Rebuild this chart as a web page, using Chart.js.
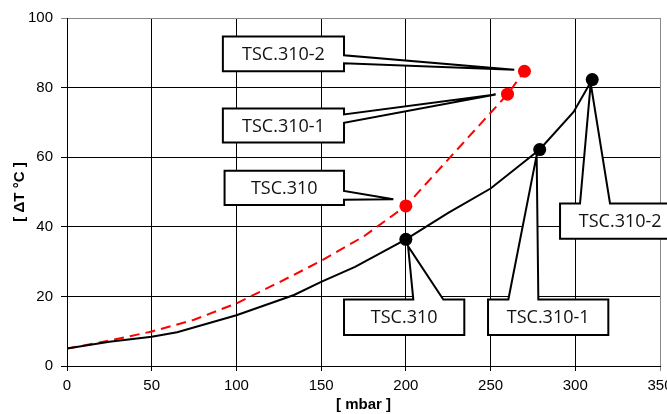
<!DOCTYPE html>
<html>
<head>
<meta charset="utf-8">
<script src="https://cdn.jsdelivr.net/npm/chart.js@4.4.0/dist/chart.umd.min.js"></script>
<style>
  html, body { margin: 0; padding: 0; background: #fff; }
  #wrap { width: 667px; height: 414px; }
</style>
</head>
<body>
<div id="wrap"><canvas id="chart" width="667" height="414"></canvas></div>
<script>
// --- data ---
const blackX = [0, 25, 50, 65, 100, 113, 134, 150, 170, 200, 225, 250, 279, 299, 310];
const blackY = [5, 7, 8.4, 9.7, 14.6, 16.8, 20.4, 24.2, 28.5, 36.4, 44, 51, 62.2, 73, 82.3];
const redX = [0, 25, 50, 75, 100, 125, 150, 175, 200, 260, 270];
const redY = [5, 7.3, 9.9, 13.3, 18, 24, 30.2, 37.2, 46, 78.1, 84.7];

const labels = ["TSC.310", "TSC.310-1", "TSC.310-2"];
const blackMarkX = [200, 279, 310];
const blackMarkY = [36.4, 62.2, 82.3];
const redMarkX = [200, 260, 270];
const redMarkY = [46, 78.1, 84.7];

const xTicks = [0, 50, 100, 150, 200, 250, 300, 350];
const yTicks = [0, 20, 40, 60, 80, 100];

// --- callout placement (data units) ---
const callouts = [
  { text: labels[2], box: [92, 163.5, 84.7, 94.7], side: "right", base: [89.3, 87.0], tip: [264, 85.1] },
  { text: labels[1], box: [92, 163.5, 64.2, 74.0], side: "right", base: [72.3, 69.9], tip: [253, 78.0] },
  { text: labels[0], box: [93, 163.5, 46.3, 56.1], side: "right", base: [50.3, 47.8], tip: [192.6, 47.9] },
  { text: labels[0], box: [163.5, 234.5, 8.9, 19.1], side: "top", base: [204.4, 222.1], tip: [201.3, 34.4] },
  { text: labels[1], box: [248.5, 319.5, 8.9, 19.1], side: "top", base: [260.5, 278.2], tip: [277.2, 60.6] },
  { text: labels[2], box: [291, 362, 36.6, 46.7], side: "top", base: [302.8, 320.5], tip: [309.1, 81.2] },
];

const pts = (xs, ys) => xs.map((x, i) => ({ x: x, y: ys[i] }));

const calloutPlugin = {
  id: "callouts",
  afterDatasetsDraw(chart) {
    const ctx = chart.ctx;
    const xs = chart.scales.x, ys = chart.scales.y;
    ctx.save();
    callouts.forEach((c) => {
      const x0 = xs.getPixelForValue(c.box[0]), x1 = xs.getPixelForValue(c.box[1]);
      const yTop = ys.getPixelForValue(c.box[3]), yBot = ys.getPixelForValue(c.box[2]);
      const tx = xs.getPixelForValue(c.tip[0]), ty = ys.getPixelForValue(c.tip[1]);
      ctx.beginPath();
      if (c.side === "right") {
        const b1 = ys.getPixelForValue(c.base[0]), b2 = ys.getPixelForValue(c.base[1]);
        ctx.moveTo(x0, yTop);
        ctx.lineTo(x1, yTop);
        ctx.lineTo(x1, b1);
        ctx.lineTo(tx, ty);
        ctx.lineTo(x1, b2);
        ctx.lineTo(x1, yBot);
        ctx.lineTo(x0, yBot);
      } else {
        const b1 = xs.getPixelForValue(c.base[0]), b2 = xs.getPixelForValue(c.base[1]);
        ctx.moveTo(x0, yTop);
        ctx.lineTo(b1, yTop);
        ctx.lineTo(tx, ty);
        ctx.lineTo(b2, yTop);
        ctx.lineTo(x1, yTop);
        ctx.lineTo(x1, yBot);
        ctx.lineTo(x0, yBot);
      }
      ctx.closePath();
      ctx.fillStyle = "#fff";
      ctx.fill();
      ctx.lineWidth = 2;
      ctx.lineJoin = "miter";
      ctx.strokeStyle = "#000";
      ctx.stroke();
      ctx.fillStyle = "#111";
      ctx.font = '18px "Open Sans"';
      ctx.textAlign = "center";
      ctx.textBaseline = "middle";
      ctx.fillText(c.text, (x0 + x1) / 2, (yTop + yBot) / 2 + 1);
    });
    ctx.restore();
  },
};

const tickFont = { family: "Liberation Sans, Arial", size: 15 };
const titleFont = { family: "Liberation Sans, Arial", size: 15, weight: "bold", lineHeight: 1.2 };

new Chart(document.getElementById("chart"), {
  type: "scatter",
  data: {
    datasets: [
      {
        data: pts(blackX, blackY),
        showLine: true,
        borderColor: "#000",
        borderWidth: 2,
        pointRadius: 0,
        tension: 0,
      },
      {
        data: pts(redX, redY),
        showLine: true,
        borderColor: "#ff0000",
        borderWidth: 2,
        borderDash: [10, 6],
        pointRadius: 0,
        tension: 0,
      },
      {
        data: pts(blackMarkX, blackMarkY),
        showLine: false,
        pointRadius: 6.5,
        pointBackgroundColor: "#000",
        pointBorderWidth: 0,
      },
      {
        data: pts(redMarkX, redMarkY),
        showLine: false,
        pointRadius: 6.5,
        pointBackgroundColor: "#ff0000",
        pointBorderWidth: 0,
      },
    ],
  },
  options: {
    responsive: false,
    animation: false,
    layout: { padding: { top: 18, right: 7, left: 0, bottom: 0 } },
    scales: {
      x: {
        type: "linear",
        min: 0,
        max: 350,
        afterBuildTicks: (s) => { s.ticks = xTicks.map((v) => ({ value: v })); },
        afterFit: (s) => { s.height = 48; s.paddingLeft = 0; s.paddingRight = 0; },
        ticks: { font: tickFont, color: "#000", padding: 6, maxRotation: 0, autoSkip: false },
        grid: {
          color: (c) => (c.tick && c.tick.value === 350 ? "#888" : "#000"),
          lineWidth: 1,
          tickLength: 5,
        },
        border: { color: "#000", width: 1 },
        title: { display: true, text: "[ mbar ]", font: titleFont, color: "#000", padding: { top: 0, bottom: 0 } },
      },
      y: {
        type: "linear",
        min: 0,
        max: 100,
        afterBuildTicks: (s) => { s.ticks = yTicks.map((v) => ({ value: v })); },
        afterFit: (s) => { s.width = 67; },
        ticks: { font: tickFont, color: "#000", padding: 8 },
        grid: {
          color: (c) => (c.tick && c.tick.value === 100 ? "#888" : "#000"),
          lineWidth: 1,
          tickLength: 6,
        },
        border: { color: "#000", width: 1 },
        title: { display: true, text: "[ ΔT °C ]", font: titleFont, color: "#000", padding: { top: 11, bottom: 0 } },
      },
    },
    plugins: {
      legend: { display: false },
      tooltip: { enabled: false },
    },
  },
  plugins: [calloutPlugin],
});
</script>
</body>
</html>
